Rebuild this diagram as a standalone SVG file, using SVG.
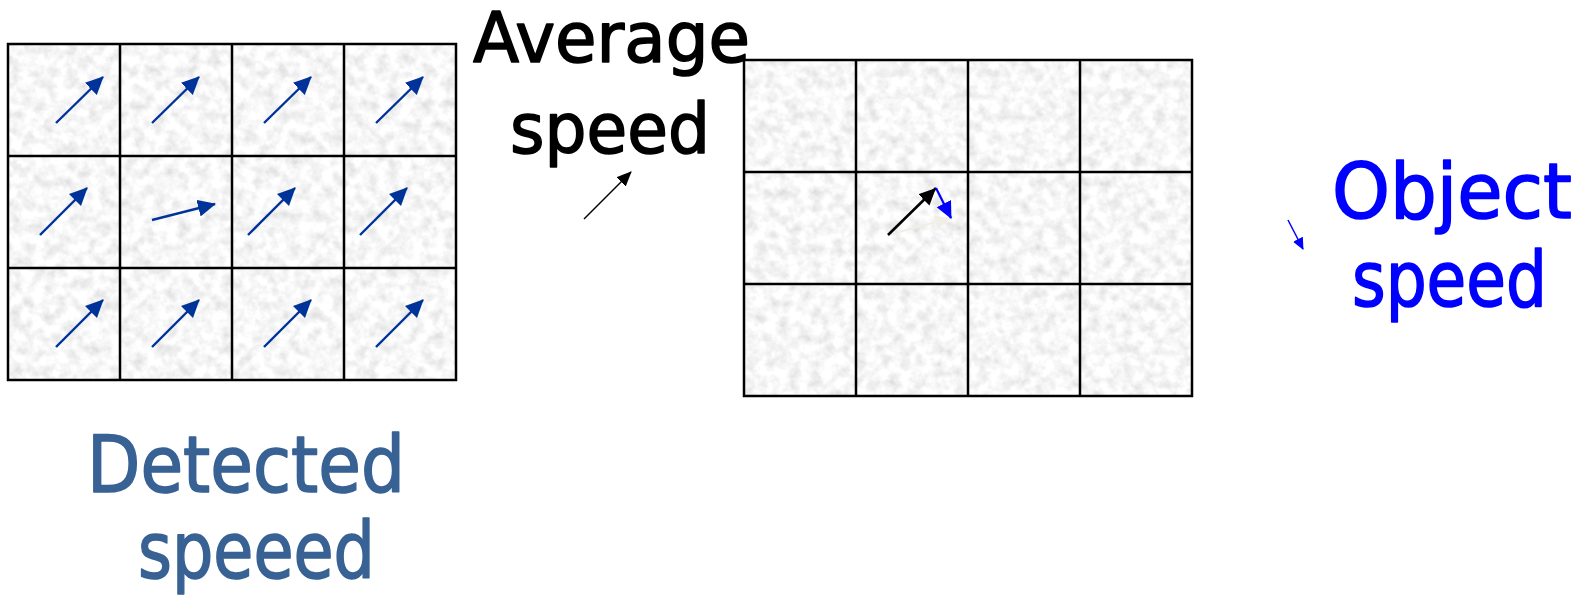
<svg xmlns="http://www.w3.org/2000/svg" width="1594" height="600" viewBox="0 0 1594 600">
<defs>
<style>
.lbl{font-family:"Comic Sans MS","DejaVu Sans",sans-serif;stroke-width:1.6;stroke-linejoin:round;}
.grid{fill:none;stroke:#000;stroke-width:2.5;}
.tex{fill:#e9e9e9;filter:url(#tex);}
.va{stroke:#003399;stroke-width:2.4;fill:none;marker-end:url(#hd);}
</style>
<filter id="tex" x="0" y="0" width="100%" height="100%">
<feTurbulence type="fractalNoise" baseFrequency="0.09" numOctaves="3" seed="7" result="n"/>
<feColorMatrix in="n" type="matrix" values="0.5 0 0 0 0.68  0.5 0 0 0 0.68  0.5 0 0 0 0.68  0 0 0 0 1" result="g"/>
<feComposite in="g" in2="SourceGraphic" operator="in"/>
</filter>
<marker id="hd" markerUnits="userSpaceOnUse" markerWidth="20" markerHeight="18" viewBox="0 0 20 18" refX="17" refY="8.5" orient="auto">
<path d="M0,0 L18,8.5 L0,17 z" fill="#003399"/>
</marker>
<marker id="hk" markerUnits="userSpaceOnUse" markerWidth="20" markerHeight="18" viewBox="0 0 20 18" refX="17" refY="8" orient="auto">
<path d="M0,0 L17,8 L0,16 z" fill="#000"/>
</marker>
<marker id="hks" markerUnits="userSpaceOnUse" markerWidth="16" markerHeight="14" viewBox="0 0 16 14" refX="14" refY="6.5" orient="auto">
<path d="M0,0 L15,6.5 L0,13 z" fill="#000"/>
</marker>
<marker id="hb" markerUnits="userSpaceOnUse" markerWidth="20" markerHeight="18" viewBox="0 0 20 18" refX="16" refY="8" orient="auto">
<path d="M0,0 L17,8 L0,16 z" fill="#0000ff"/>
</marker>
<marker id="hbs" markerUnits="userSpaceOnUse" markerWidth="14" markerHeight="12" viewBox="0 0 14 12" refX="11" refY="5.5" orient="auto">
<path d="M0,0 L12,5.5 L0,11 z" fill="#0000ff"/>
</marker>
<marker id="hw" markerUnits="userSpaceOnUse" markerWidth="18" markerHeight="16" viewBox="0 0 18 16" refX="16" refY="7" orient="auto">
<path d="M0,0 L16,7 L0,14 z" fill="#f0eee6"/>
</marker>
</defs>
<rect width="1594" height="600" fill="#fff"/>

<g id="detected-grid">
<rect class="tex" x="8" y="44" width="448" height="336"/>
<path class="grid" d="M8,44 H456 V380 H8 Z M120,44 V380 M232,44 V380 M344,44 V380 M8,156 H456 M8,268 H456"/>
</g>

<g id="object-grid">
<rect class="tex" x="744" y="60" width="448" height="336"/>
<path class="grid" d="M744,60 H1192 V396 H744 Z M856,60 V396 M968,60 V396 M1080,60 V396 M744,172 H1192 M744,284 H1192"/>
</g>

<g id="label-average">
<text class="lbl" x="473" y="62" font-size="70" textLength="277" lengthAdjust="spacingAndGlyphs" fill="#000" stroke="#000">Average</text>
<text class="lbl" x="510" y="153" font-size="70" textLength="200" lengthAdjust="spacingAndGlyphs" fill="#000" stroke="#000">speed</text>
</g>

<g id="label-object">
<text class="lbl" x="1332" y="218" font-size="76" textLength="240" lengthAdjust="spacingAndGlyphs" fill="#0000ff" stroke="#0000ff">Object</text>
<text class="lbl" x="1352" y="306" font-size="76" textLength="195" lengthAdjust="spacingAndGlyphs" fill="#0000ff" stroke="#0000ff">speed</text>
</g>

<g id="label-detected">
<text class="lbl" x="87" y="492" font-size="78" textLength="318" lengthAdjust="spacingAndGlyphs" fill="#386194" stroke="#386194">Detected</text>
<text class="lbl" x="138" y="578" font-size="78" textLength="237" lengthAdjust="spacingAndGlyphs" fill="#386194" stroke="#386194">speeed</text>
</g>

<g id="connectors">
<line class="va" x1="56" y1="123" x2="103" y2="77"/>
<line class="va" x1="152" y1="123" x2="199" y2="77"/>
<line class="va" x1="264" y1="123" x2="311" y2="77"/>
<line class="va" x1="376" y1="123" x2="423" y2="77"/>
<line class="va" x1="40" y1="235" x2="87" y2="188"/>
<line class="va" x1="152" y1="220" x2="215" y2="204"/>
<line class="va" x1="248" y1="235" x2="295" y2="188"/>
<line class="va" x1="360" y1="235" x2="407" y2="188"/>
<line class="va" x1="56" y1="347" x2="103" y2="300"/>
<line class="va" x1="152" y1="347" x2="199" y2="300"/>
<line class="va" x1="264" y1="347" x2="311" y2="300"/>
<line class="va" x1="376" y1="347" x2="423" y2="300"/>
<line x1="584" y1="219" x2="631" y2="172" stroke="#000" stroke-width="1.5" marker-end="url(#hks)"/>
<line x1="888" y1="235" x2="951" y2="218" stroke="#f0eee6" stroke-width="2" marker-end="url(#hw)"/>
<line x1="888" y1="235" x2="936" y2="188" stroke="#000" stroke-width="2.6" marker-end="url(#hk)"/>
<line x1="936" y1="188" x2="951" y2="218" stroke="#0000ff" stroke-width="2.2" marker-end="url(#hb)"/>
<line x1="1288" y1="220" x2="1303" y2="249" stroke="#0000ff" stroke-width="1.5" marker-end="url(#hbs)"/>
</g>
</svg>
